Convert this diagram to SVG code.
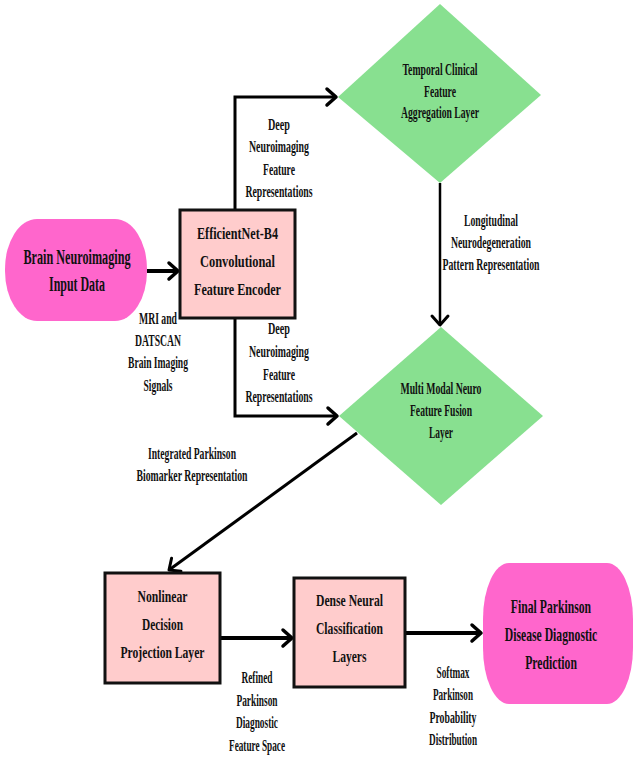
<svg xmlns="http://www.w3.org/2000/svg" width="634" height="757" viewBox="0 0 634 757">
<defs>
<style>
text{font-family:"Liberation Serif","Times New Roman",serif;font-weight:bold;fill:#111;text-anchor:middle}
.p{font-size:20px}
.f{font-size:18px}
.n{font-size:17.5px}
.d{font-size:16.5px}
.l{font-size:16px}
.pill{fill:#ff66cc;stroke:none}
.box{fill:#ffcccc;stroke:#111;stroke-width:3}
.dia{fill:#88e090;stroke:none}
.c{fill:none;stroke:#000;stroke-linejoin:miter}
.t4{stroke-width:4}
.t3{stroke-width:3}
.t25{stroke-width:2.5}
</style>
<marker id="ah" viewBox="-12 -12 24 24" markerWidth="24" markerHeight="24" refX="0" refY="0" orient="auto" markerUnits="userSpaceOnUse">
<path d="M-9,-8 L0,0 L-9,8" fill="none" stroke="#000" stroke-width="3.5" stroke-linecap="round" stroke-linejoin="round"/>
</marker>
<marker id="ah2" viewBox="-12 -12 24 24" markerWidth="24" markerHeight="24" refX="0" refY="0" orient="auto" markerUnits="userSpaceOnUse">
<path d="M-9,-8 L0,0 L-9,8" fill="none" stroke="#000" stroke-width="3" stroke-linecap="round" stroke-linejoin="round"/>
</marker>
</defs>
<rect width="634" height="757" fill="#fff"/>

<g id="connectors">
<path class="c t4" d="M147,271 L178,271" marker-end="url(#ah)"/>
<path class="c t3" d="M235,210 L235,97 L336,97" marker-end="url(#ah)"/>
<path class="c t3" d="M235,318 L235,416 L337,416" marker-end="url(#ah)"/>
<path class="c t25" d="M440,183 L440,325" marker-end="url(#ah2)"/>
<path class="c t3" d="M357,433 L169,570" marker-end="url(#ah2)"/>
<path class="c t4" d="M220,638 L292,638" marker-end="url(#ah)"/>
<path class="c t4" d="M405,633 L481,633" marker-end="url(#ah)"/>
</g>

<g id="input">
<rect class="pill" x="5" y="219" width="142" height="102" rx="32" ry="50"/>
<text class="p" x="77" y="264" textLength="107" lengthAdjust="spacingAndGlyphs">Brain Neuroimaging</text>
<text class="p" x="77" y="291" textLength="56" lengthAdjust="spacingAndGlyphs">Input Data</text>
</g>

<g id="encoder">
<rect class="box" x="180" y="210" width="115" height="108"/>
<text class="n" x="237.5" y="239" textLength="81" lengthAdjust="spacingAndGlyphs">EfficientNet-B4</text>
<text class="n" x="237.5" y="267" textLength="75" lengthAdjust="spacingAndGlyphs">Convolutional</text>
<text class="n" x="237.5" y="295" textLength="87" lengthAdjust="spacingAndGlyphs">Feature Encoder</text>
</g>

<g id="temporal">
<polygon class="dia" points="440,4 541,95 440,183 338,97"/>
<text class="d" x="440" y="75" textLength="75" lengthAdjust="spacingAndGlyphs">Temporal Clinical</text>
<text class="d" x="440" y="97" textLength="32" lengthAdjust="spacingAndGlyphs">Feature</text>
<text class="d" x="440" y="118" textLength="78" lengthAdjust="spacingAndGlyphs">Aggregation Layer</text>
</g>

<g id="fusion">
<polygon class="dia" points="441,327 543,416 441,505 339,416"/>
<text class="d" x="441" y="394" textLength="81" lengthAdjust="spacingAndGlyphs">Multi Modal Neuro</text>
<text class="d" x="441" y="416" textLength="62" lengthAdjust="spacingAndGlyphs">Feature Fusion</text>
<text class="d" x="441" y="438" textLength="24" lengthAdjust="spacingAndGlyphs">Layer</text>
</g>

<g id="nonlinear">
<rect class="box" x="105" y="573" width="115" height="110"/>
<text class="n" x="162.5" y="602" textLength="50" lengthAdjust="spacingAndGlyphs">Nonlinear</text>
<text class="n" x="162.5" y="630" textLength="41" lengthAdjust="spacingAndGlyphs">Decision</text>
<text class="n" x="162.5" y="658" textLength="84" lengthAdjust="spacingAndGlyphs">Projection Layer</text>
</g>

<g id="dense">
<rect class="box" x="294" y="578" width="111" height="109"/>
<text class="n" x="349.5" y="606" textLength="67" lengthAdjust="spacingAndGlyphs">Dense Neural</text>
<text class="n" x="349.5" y="634" textLength="67" lengthAdjust="spacingAndGlyphs">Classification</text>
<text class="n" x="349.5" y="662" textLength="34" lengthAdjust="spacingAndGlyphs">Layers</text>
</g>

<g id="output">
<rect class="pill" x="483" y="563" width="150" height="141" rx="26" ry="56"/>
<text class="f" transform="translate(551,613) scale(0.65,1)" x="0" y="0">Final Parkinson</text>
<text class="f" transform="translate(551,641) scale(0.65,1)" x="0" y="0">Disease Diagnostic</text>
<text class="f" transform="translate(551,669) scale(0.65,1)" x="0" y="0">Prediction</text>
</g>

<g id="labels">
<text class="l" x="158" y="324" textLength="38" lengthAdjust="spacingAndGlyphs">MRI and</text>
<text class="l" x="158" y="346" textLength="46" lengthAdjust="spacingAndGlyphs">DATSCAN</text>
<text class="l" x="158" y="368" textLength="60" lengthAdjust="spacingAndGlyphs">Brain Imaging</text>
<text class="l" x="158" y="391" textLength="29" lengthAdjust="spacingAndGlyphs">Signals</text>

<text class="l" x="279" y="130" textLength="22" lengthAdjust="spacingAndGlyphs">Deep</text>
<text class="l" x="279" y="152" textLength="60" lengthAdjust="spacingAndGlyphs">Neuroimaging</text>
<text class="l" x="279" y="175" textLength="32" lengthAdjust="spacingAndGlyphs">Feature</text>
<text class="l" x="279" y="197" textLength="67" lengthAdjust="spacingAndGlyphs">Representations</text>

<text class="l" x="279" y="334" textLength="22" lengthAdjust="spacingAndGlyphs">Deep</text>
<text class="l" x="279" y="357" textLength="60" lengthAdjust="spacingAndGlyphs">Neuroimaging</text>
<text class="l" x="279" y="380" textLength="32" lengthAdjust="spacingAndGlyphs">Feature</text>
<text class="l" x="279" y="402" textLength="67" lengthAdjust="spacingAndGlyphs">Representations</text>

<text class="l" x="491" y="226" textLength="54" lengthAdjust="spacingAndGlyphs">Longitudinal</text>
<text class="l" x="491" y="248" textLength="80" lengthAdjust="spacingAndGlyphs">Neurodegeneration</text>
<text class="l" x="491" y="270" textLength="97" lengthAdjust="spacingAndGlyphs">Pattern Representation</text>

<text class="l" x="192" y="459" textLength="88" lengthAdjust="spacingAndGlyphs">Integrated Parkinson</text>
<text class="l" x="192" y="481" textLength="111" lengthAdjust="spacingAndGlyphs">Biomarker Representation</text>

<text class="l" x="257" y="683" textLength="31" lengthAdjust="spacingAndGlyphs">Refined</text>
<text class="l" x="257" y="706" textLength="41" lengthAdjust="spacingAndGlyphs">Parkinson</text>
<text class="l" x="257" y="728" textLength="42" lengthAdjust="spacingAndGlyphs">Diagnostic</text>
<text class="l" x="257" y="751" textLength="56" lengthAdjust="spacingAndGlyphs">Feature Space</text>

<text class="l" x="453" y="678" textLength="33" lengthAdjust="spacingAndGlyphs">Softmax</text>
<text class="l" x="453" y="700" textLength="40" lengthAdjust="spacingAndGlyphs">Parkinson</text>
<text class="l" x="453" y="723" textLength="47" lengthAdjust="spacingAndGlyphs">Probability</text>
<text class="l" x="453" y="745" textLength="48" lengthAdjust="spacingAndGlyphs">Distribution</text>
</g>
</svg>
